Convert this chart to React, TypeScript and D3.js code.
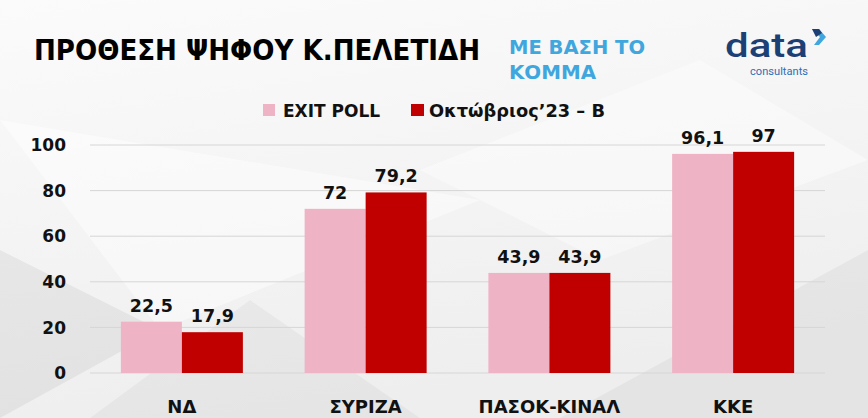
import * as d3 from 'd3';

const categories = ['ΝΔ', 'ΣΥΡΙΖΑ', 'ΠΑΣΟΚ-ΚΙΝΑΛ', 'ΚΚΕ'];
const exitPoll = [22.5, 72, 43.9, 96.1];
const october23 = [17.9, 79.2, 43.9, 97];
const seriesNames = ['EXIT POLL', 'Οκτώβριος’23 – Β'];
const seriesColors = ['#efb3c6', '#c00000'];
const yTicks = [0, 20, 40, 60, 80, 100];

const W = 868;
const H = 418;
const LABEL_FONT = '"DejaVu Sans", "Open Sans", sans-serif';

const fmt = (v: number) => String(v).replace('.', ',');

export default function App() {
  const x = d3.scaleBand<string>().domain(categories).range([90, 825]).paddingInner(0.336).paddingOuter(0.168);
  const xSeries = d3.scaleBand<number>().domain([0, 1]).range([0, x.bandwidth()]);
  const y = d3.scaleLinear().domain([0, 100]).range([373, 145]);
  const series = [exitPoll, october23];

  return (
    <svg width={W} height={H} style={{ position: 'fixed', left: 0, top: 0 }} fontFamily={LABEL_FONT}>
      <defs>
        <linearGradient id="bg" x1="0" y1="0" x2="0.3" y2="1">
          <stop offset="0" stopColor="#fbfbfb" />
          <stop offset="1" stopColor="#eeeeee" />
        </linearGradient>
      </defs>
      <rect width={W} height={H} fill="url(#bg)" />
      {/* faint background facets */}
      <polygon points="0,250 160,330 0,418" fill="#000" opacity={0.05} />
      <polygon points="90,418 250,300 420,418" fill="#000" opacity={0.035} />
      <polygon points="0,120 480,200 160,330" fill="#fff" opacity={0.45} />
      <polygon points="560,418 868,250 868,418" fill="#000" opacity={0.04} />
      <polygon points="420,170 700,60 868,160 600,260" fill="#fff" opacity={0.4} />

      {/* title */}
      <text x={34} y={60} fontFamily='"Liberation Sans Narrow", "DejaVu Sans Condensed", "Liberation Sans", sans-serif'
        fontWeight={700} fontSize={29} fill="#000" textLength={446} lengthAdjust="spacingAndGlyphs">
        ΠΡΟΘΕΣΗ ΨΗΦΟΥ Κ.ΠΕΛΕΤΙΔΗ
      </text>
      <g fontFamily='"Liberation Sans Narrow", "DejaVu Sans Condensed", sans-serif' fontWeight={700} fontSize={20} fill="#3fa6de">
        <text x={509} y={54} textLength={136} lengthAdjust="spacingAndGlyphs">ΜΕ ΒΑΣΗ ΤΟ</text>
        <text x={509} y={79} textLength={87} lengthAdjust="spacingAndGlyphs">ΚΟΜΜΑ</text>
      </g>

      {/* logo */}
      <text x={725} y={57} fontFamily="Roboto, sans-serif" fontWeight={500} fontSize={34} fill="#1c3f75"
        textLength={83} lengthAdjust="spacingAndGlyphs">data</text>
      <text x={750} y={75} fontFamily="Roboto, sans-serif" fontSize={10.5} fill="#2f6db5"
        textLength={58} lengthAdjust="spacingAndGlyphs">consultants</text>
      <path d="M812,29 L819,29 L826,37 L819,45 L814,45 L820,37 Z" fill="#3fa6de" />
      <path d="M812,29 L819,29 L822,33 L816,37 Z" fill="#1c3f75" />

      {/* legend */}
      <g fontSize={17} fontWeight={700} fill="#111">
        <rect x={263} y={104} width={12} height={12} fill={seriesColors[0]} />
        <text x={283} y={117}>{seriesNames[0]}</text>
        <rect x={411} y={104} width={13} height={12} fill={seriesColors[1]} />
        <text x={429} y={117} textLength={176} lengthAdjust="spacingAndGlyphs">{seriesNames[1]}</text>
      </g>

      {/* grid + y axis */}
      <g>
        {yTicks.map((t) => (
          <g key={t}>
            <line x1={90} x2={825} y1={y(t)} y2={y(t)} stroke="#d6d6d6" strokeWidth={1} />
            <text x={66} y={y(t)} dy="0.36em" textAnchor="end" fontSize={17} fontWeight={700} fill="#111">{t}</text>
          </g>
        ))}
      </g>

      {/* bars */}
      {categories.map((c, i) => (
        <g key={c} transform={`translate(${x(c)},0)`}>
          {series.map((s, j) => (
            <g key={j}>
              <rect x={xSeries(j)} y={y(s[i])} width={xSeries.bandwidth()} height={y(0) - y(s[i])} fill={seriesColors[j]} />
              <text x={(xSeries(j) ?? 0) + xSeries.bandwidth() / 2} y={y(s[i]) - 10} textAnchor="middle"
                fontSize={17.5} fontWeight={700} fill="#111">{fmt(s[i])}</text>
            </g>
          ))}
          <text x={x.bandwidth() / 2} y={413} textAnchor="middle" fontSize={18} fontWeight={700} fill="#111">{c}</text>
        </g>
      ))}
    </svg>
  );
}
